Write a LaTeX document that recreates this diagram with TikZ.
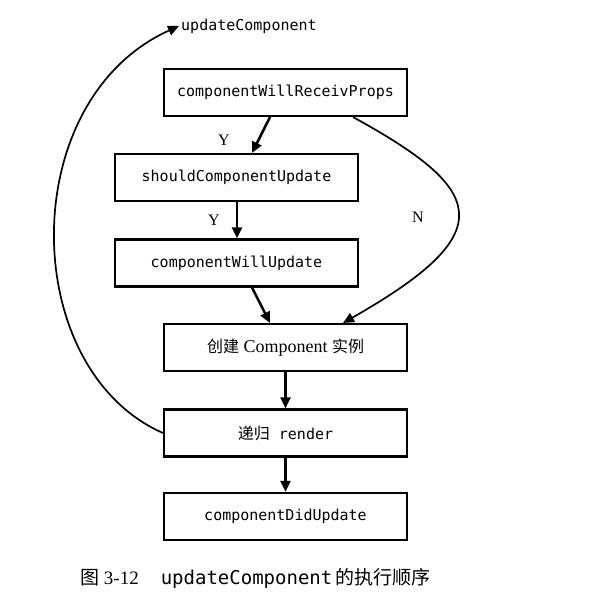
\documentclass[tikz,border=0pt]{standalone}
\usepackage{fontspec}
\setmainfont{Liberation Serif}
\setmonofont{DejaVu Sans Mono}
\newfontfamily\cjk{Noto Sans CJK SC}
\usetikzlibrary{arrows.meta}
\begin{document}
\begin{tikzpicture}[x=1pt,y=-1pt,
  box/.style={draw, line width=2.1pt, minimum width=243pt, minimum height=47pt, inner sep=0pt, font=\fontsize{15}{18}\selectfont\ttfamily},
  arr/.style={line width=2.5pt, -{Triangle[length=11pt,width=10pt]}},
  crv/.style={line width=1.7pt, -{Triangle[length=11pt,width=10pt]}},
  lab/.style={font=\fontsize{16}{18}\selectfont}]
\useasboundingbox[fill=white] (0,0) rectangle (608,598);
\node[box] (b1) at (285.5,92.5) {componentWillReceivProps};
\node[box] (b2) at (236.5,177.5) {shouldComponentUpdate};
\node[box] (b3) at (236.5,263) {componentWillUpdate};
\node[box, font=\fontsize{18}{20}\selectfont] (b4) at (285.5,347.5) {{\cjk\fontsize{16}{20}\selectfont 创建} Component {\cjk\fontsize{16}{20}\selectfont 实例}};
\node[box] (b5) at (285.5,433) {{\cjk\fontsize{16}{20}\selectfont 递归} render};
\node[box] (b6) at (285.5,516.5) {componentDidUpdate};
\node[anchor=west, inner sep=2pt, font=\fontsize{15}{18}\selectfont\ttfamily] (uc) at (179,26) {updateComponent};
\node[lab] (y1) at (224,140) {Y};
\node[lab] (y2) at (214,220) {Y};
\node[lab] (n) at (418,217) {N};
\node[anchor=west, inner sep=0pt, font=\fontsize{19}{22}\selectfont] (cap) at (80,578) {{\cjk 图} 3-12\hspace{22pt}{\ttfamily updateComponent}\hspace{3pt}{\cjk 的执行顺序}};
\draw[arr] ([xshift=-15.5pt]b1.south) -- ([xshift=15.5pt]b2.north);
\draw[arr] ([xshift=0.5pt]b2.south) -- ([xshift=0.5pt]b3.north);
\draw[arr] ([xshift=15.5pt]b3.south) -- ([xshift=-15.5pt]b4.north);
\draw[arr] (b4.south) -- (b5.north);
\draw[arr] (b5.south) -- (b6.north);
\draw[crv] ([xshift=67.5pt]b1.south) .. controls (486,190) and (503,232) .. ([xshift=57.5pt]b4.north);
\draw[crv] (b5.west) .. controls (18,369) and (15,100) .. (uc.west);
\end{tikzpicture}
\end{document}
